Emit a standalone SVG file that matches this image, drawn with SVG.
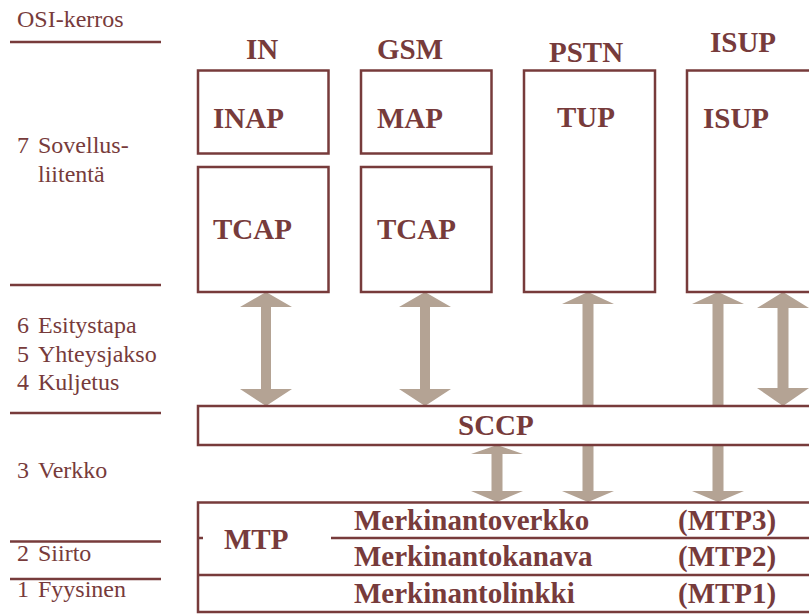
<svg xmlns="http://www.w3.org/2000/svg" width="809" height="615" viewBox="0 0 809 615">
  <style>
    .box { fill: #ffffff; stroke: #773b3b; stroke-width: 2.5; }
    .rule { stroke: #773b3b; stroke-width: 2.5; }
    .arrow { fill: #b4a394; }
    text { font-family: "Liberation Serif", "Times New Roman", Times, serif; fill: #773b3b; }
    .layer { font-size: 24px; }
    .lbl { font-size: 29px; font-weight: bold; }
  </style>

  <!-- OSI layer column -->
  <g id="osi-layers">
    <line class="rule" x1="10" y1="42" x2="161" y2="42"/>
    <line class="rule" x1="10" y1="285" x2="161" y2="285"/>
    <line class="rule" x1="10" y1="413" x2="161" y2="413"/>
    <line class="rule" x1="10" y1="541.5" x2="161" y2="541.5"/>
    <line class="rule" x1="10" y1="579" x2="161" y2="579"/>
    <text class="layer" x="17" y="27">OSI-kerros</text>
    <text class="layer" x="17" y="153">7</text>
    <text class="layer" x="38" y="153">Sovellus-</text>
    <text class="layer" x="38" y="182">liitentä</text>
    <text class="layer" x="17" y="333">6</text>
    <text class="layer" x="38" y="333">Esitystapa</text>
    <text class="layer" x="17" y="362">5</text>
    <text class="layer" x="38" y="362">Yhteysjakso</text>
    <text class="layer" x="17" y="390">4</text>
    <text class="layer" x="38" y="390">Kuljetus</text>
    <text class="layer" x="17" y="478">3</text>
    <text class="layer" x="38" y="478">Verkko</text>
    <text class="layer" x="17" y="561">2</text>
    <text class="layer" x="38" y="561">Siirto</text>
    <text class="layer" x="17" y="597">1</text>
    <text class="layer" x="38" y="597">Fyysinen</text>
  </g>

  <!-- connectors: drawn first so the SCCP band covers the through-shafts -->
  <g id="connectors" class="arrow">
    <!-- IN: TCAP <-> SCCP -->
    <polygon points="266,292 292,307 271,307 271,389 292,389 266,406 240,389 261,389 261,307 240,307"/>
    <!-- GSM: TCAP <-> SCCP -->
    <polygon points="425,292 451,307 430,307 430,389 451,389 425,406 399,389 420,389 420,307 399,307"/>
    <!-- PSTN: TUP <-> MTP3 (passes behind SCCP) -->
    <polygon points="588,292 614,304 593.5,304 593.5,491 614,491 588,502 562,491 582.5,491 582.5,304 562,304"/>
    <!-- ISUP: ISUP <-> MTP3 (passes behind SCCP) -->
    <polygon points="718,292 744,304 723.5,304 723.5,491 744,491 718,502 692,491 712.5,491 712.5,304 692,304"/>
    <!-- ISUP: ISUP <-> SCCP -->
    <polygon points="783,292 809,308 788.5,308 788.5,388 809,388 783,406 757,388 777.5,388 777.5,308 757,308"/>
    <!-- SCCP <-> MTP3 -->
    <polygon points="497,445 523,454 502.5,454 502.5,491 523,491 497,502 471,491 491.5,491 491.5,454 471,454"/>
  </g>

  <!-- column headers -->
  <g id="headers">
    <text class="lbl" x="246" y="59">IN</text>
    <text class="lbl" x="377" y="59">GSM</text>
    <text class="lbl" x="549" y="62">PSTN</text>
    <text class="lbl" x="710" y="52">ISUP</text>
  </g>

  <g id="inap">
    <rect class="box" x="198" y="70.5" width="130.5" height="83"/>
    <text class="lbl" x="213" y="128">INAP</text>
  </g>
  <g id="tcap-in">
    <rect class="box" x="198" y="167" width="130.5" height="125"/>
    <text class="lbl" x="213" y="239">TCAP</text>
  </g>
  <g id="map">
    <rect class="box" x="361" y="70.5" width="130.5" height="83"/>
    <text class="lbl" x="377" y="128">MAP</text>
  </g>
  <g id="tcap-gsm">
    <rect class="box" x="361" y="167" width="130.5" height="125"/>
    <text class="lbl" x="377" y="239">TCAP</text>
  </g>
  <g id="tup">
    <rect class="box" x="524" y="70.5" width="131" height="221.5"/>
    <text class="lbl" x="557" y="127">TUP</text>
  </g>
  <g id="isup">
    <rect class="box" x="687" y="70.5" width="140" height="221.5"/>
    <text class="lbl" x="703" y="128">ISUP</text>
  </g>

  <g id="sccp">
    <rect class="box" x="198" y="406" width="630" height="39"/>
    <text class="lbl" x="458" y="435">SCCP</text>
  </g>

  <g id="mtp">
    <rect class="box" x="198" y="502.5" width="630" height="109.5"/>
    <line class="rule" x1="198" y1="538" x2="203" y2="538"/>
    <line class="rule" x1="331" y1="538" x2="809" y2="538"/>
    <line class="rule" x1="198" y1="575" x2="809" y2="575"/>
    <text class="lbl" x="224" y="549">MTP</text>
    <text class="lbl" x="354" y="530">Merkinantoverkko</text>
    <text class="lbl" x="678" y="530">(MTP3)</text>
    <text class="lbl" x="354" y="566">Merkinantokanava</text>
    <text class="lbl" x="678" y="566">(MTP2)</text>
    <text class="lbl" x="354" y="603">Merkinantolinkki</text>
    <text class="lbl" x="678" y="603">(MTP1)</text>
  </g>
</svg>
